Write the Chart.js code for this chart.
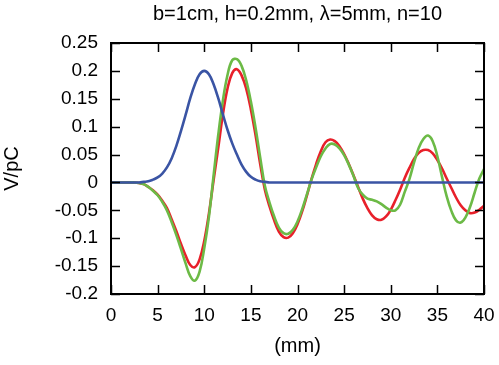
<!DOCTYPE html>
<html>
<head>
<meta charset="utf-8">
<script src="https://cdn.jsdelivr.net/npm/chart.js@4"></script>
<style>
  html, body { margin: 0; padding: 0; background: #fff; }
  #wrap { width: 499px; height: 365px; }
</style>
</head>
<body>
<div id="wrap"><canvas id="chart" width="499" height="365"></canvas></div>
<script>
// positions along the structure (mm)
const xs = [0,0.5,1,1.5,2,2.5,3,3.5,4,4.5,5,5.5,6,6.5,7,7.5,8,8.5,9,9.5,
  10,10.5,11,11.5,12,12.5,13,13.5,14,14.5,15,15.5,16,16.5,17,17.5,18,18.5,19,19.5,
  20,20.5,21,21.5,22,22.5,23,23.5,24,24.5,25,25.5,26,26.5,27,27.5,28,28.5,29,29.5,
  30,30.5,31,31.5,32,32.5,33,33.5,34,34.5,35,35.5,36,36.5,37,37.5,38,38.5,39,39.5,40];

// bunch (blue)
const bunch = [0,0,0,0,0,0,0,0.001,0.002,0.005,0.009,0.016,0.027,0.043,0.065,0.092,0.121,0.151,0.176,0.194,
  0.2,0.194,0.176,0.151,0.122,0.094,0.070,0.050,0.032,0.019,0.010,0.005,0.002,0.001,0,0,0,0,0,0,
  0,0,0,0,0,0,0,0,0,0,0,0,0,0,0,0,0,0,0,0,
  0,0,0,0,0,0,0,0,0,0,0,0,0,0,0,0,0,0,0,0,0];

// wake, red
const wakeRed = [0,0,0,0,0,0,-0.001,-0.003,-0.008,-0.014,-0.022,-0.033,-0.046,-0.066,-0.087,-0.110,-0.131,-0.148,-0.152,-0.138,
  -0.105,-0.056,0.004,0.062,0.122,0.169,0.196,0.203,0.192,0.168,0.131,0.085,0.033,-0.013,-0.043,-0.068,-0.088,-0.098,-0.099,-0.091,
  -0.075,-0.052,-0.024,0.006,0.033,0.056,0.072,0.077,0.074,0.065,0.051,0.033,0.013,-0.008,-0.029,-0.046,-0.059,-0.066,-0.067,-0.061,
  -0.049,-0.032,-0.013,0.008,0.026,0.042,0.053,0.058,0.058,0.052,0.040,0.025,0.007,-0.010,-0.027,-0.041,-0.050,-0.055,-0.054,-0.049,-0.042];

// wake, green
const wakeGreen = [0,0,0,0,0,0,-0.001,-0.003,-0.008,-0.015,-0.023,-0.035,-0.050,-0.071,-0.094,-0.119,-0.145,-0.168,-0.176,-0.160,
  -0.118,-0.062,0.012,0.085,0.147,0.193,0.219,0.221,0.209,0.183,0.145,0.098,0.045,-0.006,-0.036,-0.061,-0.081,-0.091,-0.092,-0.085,
  -0.070,-0.048,-0.022,0.005,0.027,0.047,0.061,0.069,0.068,0.061,0.049,0.032,0.012,-0.010,-0.022,-0.029,-0.031,-0.034,-0.039,-0.045,
  -0.050,-0.050,-0.040,-0.017,0.006,0.036,0.062,0.078,0.084,0.074,0.047,0.010,-0.025,-0.051,-0.068,-0.072,-0.063,-0.044,-0.018,0.007,0.024];

const xTicks = [0,5,10,15,20,25,30,35,40];
const yTicks = [-0.2,-0.15,-0.1,-0.05,0,0.05,0.1,0.15,0.2,0.25];
const titleText = 'b=1cm, h=0.2mm, \u03bb=5mm, n=10';

Chart.defaults.font.family = '"Liberation Sans", Arial, Helvetica, sans-serif';
Chart.defaults.color = '#000';

const pts = arr => xs.map((x, i) => ({ x: x, y: arr[i] }));

// gnuplot-like frame with inward ticks on all four sides
const frame = {
  id: 'frame',
  afterDatasetsDraw(chart) {
    const { ctx, chartArea: a, scales: { x, y } } = chart;
    ctx.save();
    ctx.strokeStyle = '#000';
    ctx.lineWidth = 1.5;
    ctx.beginPath();
    xTicks.forEach(v => {
      const px = Math.round(x.getPixelForValue(v)) + 0.5;
      ctx.moveTo(px, a.bottom); ctx.lineTo(px, a.bottom - 9);
      ctx.moveTo(px, a.top); ctx.lineTo(px, a.top + 9);
    });
    yTicks.forEach(v => {
      const py = Math.round(y.getPixelForValue(v)) + 0.5;
      ctx.moveTo(a.left, py); ctx.lineTo(a.left + 9, py);
      ctx.moveTo(a.right, py); ctx.lineTo(a.right - 9, py);
    });
    ctx.stroke();
    ctx.lineWidth = 2;
    ctx.strokeRect(a.left, a.top, a.right - a.left, a.bottom - a.top);
    ctx.restore();
  }
};

new Chart(document.getElementById('chart'), {
  type: 'line',
  data: {
    datasets: [
      { data: pts(bunch), borderColor: '#3a54a4', order: 0 },
      { data: pts(wakeGreen), borderColor: '#6cba46', order: 1 },
      { data: pts(wakeRed), borderColor: '#e8202a', order: 2 }
    ]
  },
  options: {
    responsive: false,
    animation: false,
    devicePixelRatio: 1,
    layout: { padding: { top: 0, right: 15, bottom: 0, left: 0 } },
    elements: {
      line: { borderWidth: 2.6, tension: 0.4, fill: false },
      point: { radius: 0 }
    },
    plugins: { legend: { display: false }, tooltip: { enabled: false } },
    scales: {
      x: {
        type: 'linear', min: 0, max: 40,
        grid: { display: false, drawTicks: false },
        border: { display: false },
        afterBuildTicks: s => { s.ticks = xTicks.map(v => ({ value: v })); },
        afterFit: s => { s.height = 71; s.paddingLeft = 0; s.paddingRight = 0; },
        ticks: { font: { size: 19 }, padding: 10, maxRotation: 0, autoSkip: false,
                 callback: v => String(v) },
        title: { display: true, text: '(mm)', font: { size: 20 }, padding: { top: 0, bottom: 7 } }
      },
      top: {
        type: 'linear', position: 'top', min: 0, max: 40,
        grid: { display: false, drawTicks: false },
        border: { display: false },
        ticks: { display: false },
        afterFit: s => { s.height = 43; s.paddingLeft = 0; s.paddingRight = 0; },
        title: { display: true, text: titleText, font: { size: 20 }, padding: { top: 2, bottom: 0 } }
      },
      y: {
        min: -0.2, max: 0.25,
        grid: { display: false, drawTicks: false },
        border: { display: false },
        afterBuildTicks: s => { s.ticks = yTicks.map(v => ({ value: v })); },
        afterFit: s => { s.width = 111; s.paddingTop = 0; s.paddingBottom = 0; },
        ticks: { font: { size: 19 }, padding: 13, autoSkip: false,
                 callback: v => String(v) },
        title: { display: true, text: 'V/pC', font: { size: 20 }, padding: { top: 0, bottom: 0 } }
      }
    }
  },
  plugins: [frame]
});
</script>
</body>
</html>
